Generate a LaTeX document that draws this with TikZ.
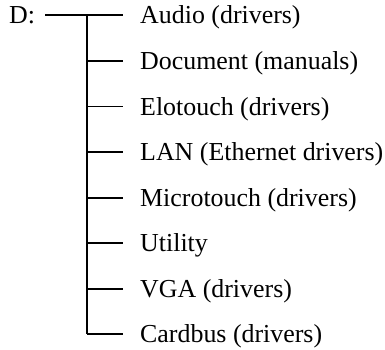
\documentclass[tikz,border=0pt]{standalone}
\usepackage{fontspec}
\setmainfont{Liberation Serif}
\begin{document}
\begin{tikzpicture}[x=1pt,y=-1pt,
  lbl/.style={anchor=base west,inner sep=0pt,font=\fontsize{25.9}{30}\selectfont},
  branch/.style={line width=1.4pt,shorten >=17pt},
  trunk/.style={line width=2pt}]
\useasboundingbox (0,0) rectangle (385,350);
\node[lbl] (d) at (9,23.5) {D:};
\coordinate (start) at (45,15);
\foreach \i/\y/\t in {1/15/Audio (drivers),2/61/Document (manuals),3/106.5/Elotouch (drivers),4/152/LAN (Ethernet drivers),5/198/Microtouch (drivers),6/243/Utility,7/289/VGA (drivers),8/334/Cardbus (drivers)}{
  \coordinate (j\i) at (87,\y);
  \node[lbl] (n\i) at (140,\y+8.5) {\t};
  \draw[branch] (j\i) -- (j\i -| n\i.west);
}
\draw[line width=1.4pt] (start) -- (j1);
\draw[trunk] (j1) -- (j8);
\end{tikzpicture}
\end{document}
